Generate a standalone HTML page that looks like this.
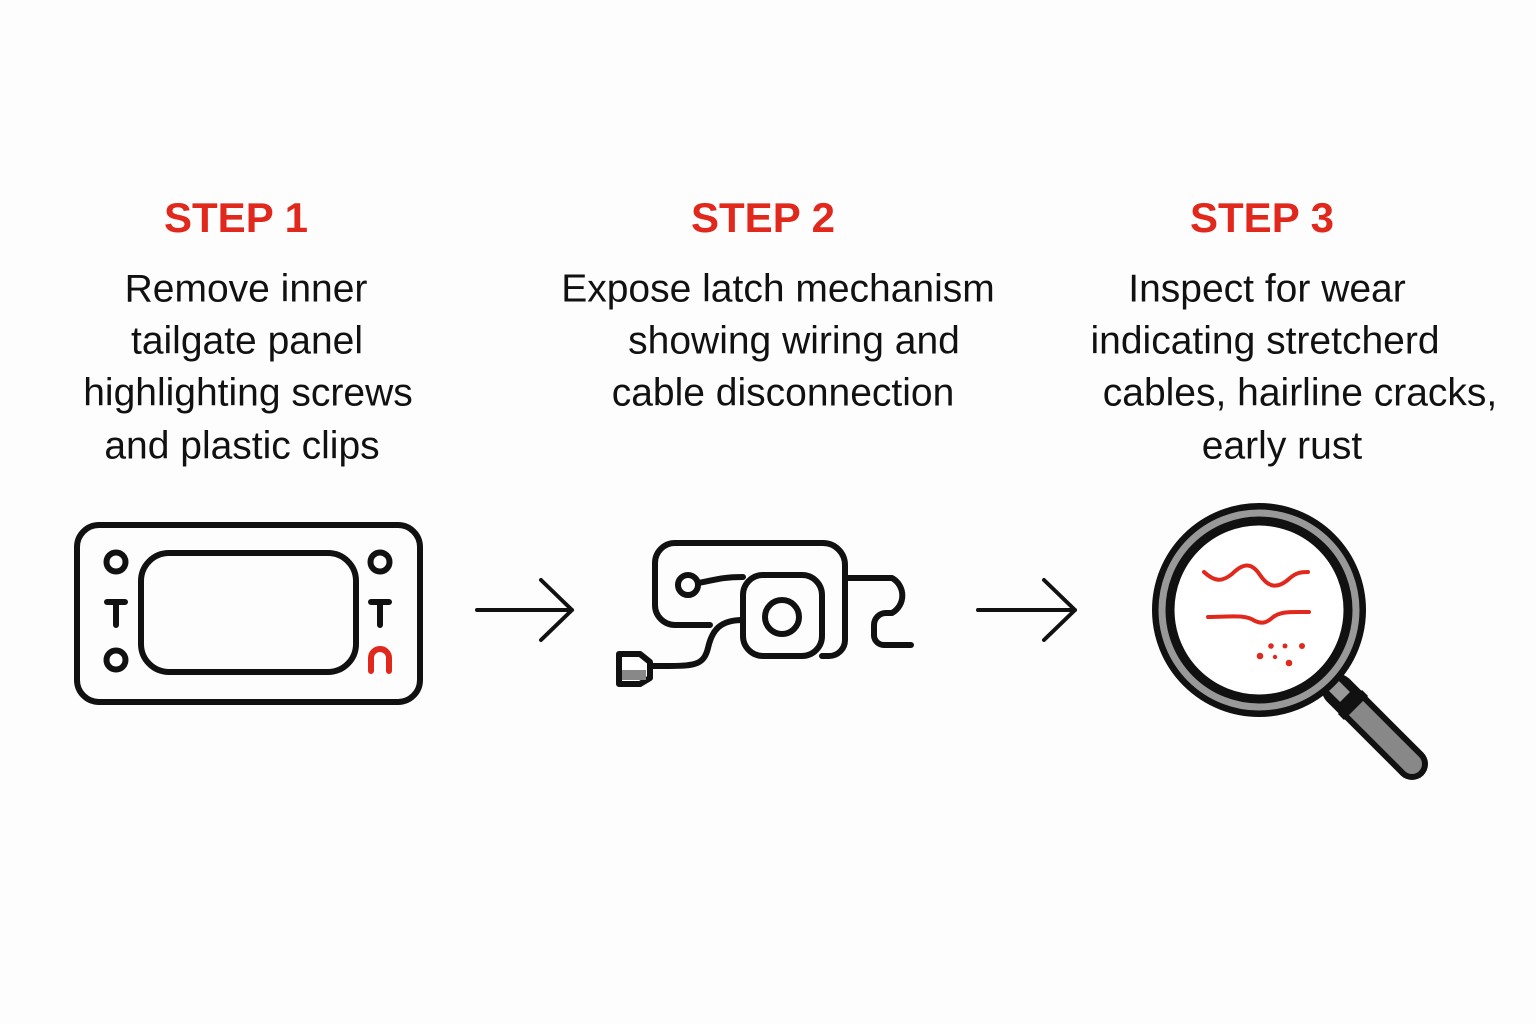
<!DOCTYPE html>
<html><head><meta charset="utf-8"><style>
html,body{margin:0;padding:0;background:#fdfdfd;}
body{width:1536px;height:1024px;position:relative;overflow:hidden;font-family:"Liberation Sans","DejaVu Sans",sans-serif;}
.t{position:absolute;white-space:nowrap;transform:translate(-50%,-50%);color:#111;font-size:39px;line-height:1;}
.h{position:absolute;white-space:nowrap;transform:translate(-50%,-50%);color:#e0281c;font-size:42px;font-weight:bold;line-height:1;}
svg{position:absolute;left:0;top:0;}
</style></head><body>
<div class="h" style="left:236px;top:218px">STEP 1</div>
<div class="h" style="left:763px;top:218px">STEP 2</div>
<div class="h" style="left:1262px;top:218px">STEP 3</div>

<div class="t" style="left:246px;top:289px">Remove inner</div>
<div class="t" style="left:247px;top:341px">tailgate panel</div>
<div class="t" style="left:248px;top:393px">highlighting screws</div>
<div class="t" style="left:242px;top:446px">and plastic clips</div>

<div class="t" style="left:778px;top:289px">Expose latch mechanism</div>
<div class="t" style="left:794px;top:341px">showing wiring and</div>
<div class="t" style="left:783px;top:393px">cable disconnection</div>

<div class="t" style="left:1267px;top:289px">Inspect for wear</div>
<div class="t" style="left:1265px;top:341px">indicating stretcherd</div>
<div class="t" style="left:1300px;top:393px">cables, hairline cracks,</div>
<div class="t" style="left:1282px;top:446px">early rust</div>

<svg width="1536" height="1024" viewBox="0 0 1536 1024" fill="none" stroke-linecap="round" stroke-linejoin="round">
<g stroke="#111" stroke-width="6">
<rect x="77" y="525" width="343" height="177" rx="22"/>
<rect x="141" y="553" width="215" height="119" rx="28"/>
<circle cx="116" cy="562" r="9.5"/>
<circle cx="116" cy="660" r="9.5"/>
<circle cx="380" cy="562" r="9.5"/>
<path d="M107 602H125M116 602V625"/>
<path d="M371 602H389M380 602V625"/>
</g>
<path d="M371 671V658A9 9 0 0 1 389 658V671" stroke="#e0281c" stroke-width="6"/>
<g stroke="#111" stroke-width="4">
<path d="M477 610H572M541 580L572 610L541 640"/>
<path d="M978 610H1075M1044 580L1075 610L1044 640"/>
</g>
<g stroke="#111" stroke-width="6">
<path d="M845 576V565A22 22 0 0 0 823 543H675A20 20 0 0 0 655 563V605A20 20 0 0 0 675 625H710"/>
<path d="M698 583C715 580 722 577 743 577"/>
<circle cx="688" cy="585" r="10"/>
<rect x="743" y="575" width="79" height="81" rx="20"/>
<circle cx="782" cy="617" r="17"/>
<path d="M743 620C720 620 712 630 708 648C704 664 696 666 670 666H650"/>
<path d="M845 576V640A16 16 0 0 1 829 656H822"/>
<path d="M845 578H892A20 20 0 0 1 892 613H886A12 12 0 0 0 874 625V636A10 10 0 0 0 884 645H911"/>
</g>
<path d="M619 654H640L650 662V678L640 684H619Z" fill="#fff" stroke="#111" stroke-width="6"/>
<path d="M622 670H646V680H622Z" fill="#888"/>
<path d="M1338 690L1412 764" stroke="#111" stroke-width="32"/>
<path d="M1338 690L1412 764" stroke="#888" stroke-width="20"/>
<path d="M1328 680L1352 704" stroke="#111" stroke-width="26" stroke-linecap="butt"/>
<path d="M1330 682L1345 697" stroke="#999" stroke-width="14" stroke-linecap="butt"/>
<path d="M1350 702L1356 708" stroke="#111" stroke-width="34" stroke-linecap="butt"/>
<circle cx="1259" cy="610" r="97" stroke="#111" stroke-width="20"/>
<circle cx="1259" cy="610" r="97" stroke="#999" stroke-width="7"/>
<circle cx="1259" cy="610" r="87" fill="#fff" stroke="#111" stroke-width="5"/>
<g stroke="#e0281c" stroke-width="4">
<path d="M1204 572C1215 582 1222 582 1232 574C1244 562 1252 563 1260 575C1268 587 1277 590 1290 578C1296 573 1300 572 1308 572"/>
<path d="M1208 617C1230 617 1245 614 1255 621C1262 624 1266 623 1272 618C1280 611 1290 612 1309 612"/>
</g>
<g fill="#e0281c">
<circle cx="1271" cy="646" r="2.8"/><circle cx="1285" cy="646" r="2.5"/><circle cx="1302" cy="646" r="3"/>
<circle cx="1260" cy="656" r="3.3"/><circle cx="1275" cy="657" r="2.2"/><circle cx="1289" cy="663" r="3.3"/>
</g>
</svg>
</body></html>
